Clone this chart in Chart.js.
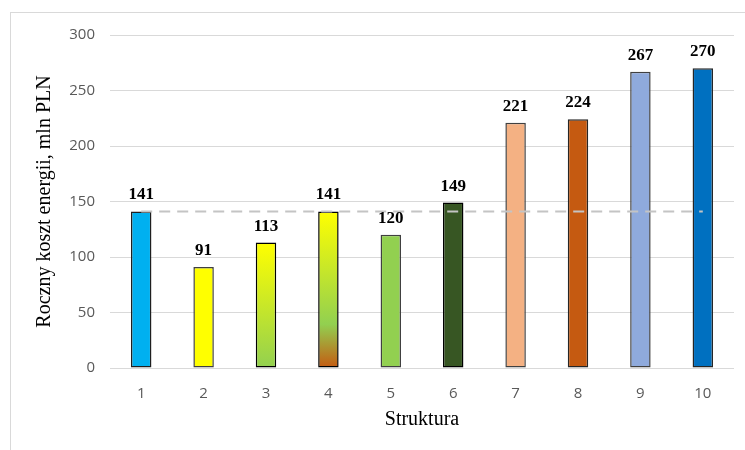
<!DOCTYPE html>
<html>
<head>
<meta charset="utf-8">
<script src="https://cdn.jsdelivr.net/npm/chart.js@4/dist/chart.umd.min.js"></script>
<style>
  html, body { margin: 0; padding: 0; background: #fff; }
  #wrap { position: relative; width: 745px; height: 450px; overflow: hidden; }
  #frame { position: absolute; left: 10px; top: 12px; width: 760px; height: 460px;
           border: 1px solid #d9d9d9; box-sizing: border-box; }
  canvas { position: absolute; left: 0; top: 0; }
</style>
</head>
<body>
<div id="wrap">
  <div id="frame"></div>
  <canvas id="c" width="745" height="450"></canvas>
</div>
<script>
// Annual energy cost per structure variant (mln PLN)
const structures = ['1', '2', '3', '4', '5', '6', '7', '8', '9', '10'];
const costs = [141, 91, 113, 141, 120, 149, 221, 224, 267, 270];
// Reference level: cost of structure 1
const referenceCost = 141;
const referenceLine = structures.map(() => referenceCost);
// Fill for each bar: one colour, or top-to-bottom gradient stops
const barFills = [
  ['#00B0F0'],
  ['#FFFF00'],
  ['#FFFF00', '#92D050'],
  ['#FFFF00', '#92D050', '#C55A11'],
  ['#92D050'],
  ['#375623'],
  ['#F4B183'],
  ['#C55A11'],
  ['#8FAADC'],
  ['#0070C0']
];
const gradientStopPos = { 2: [0, 1], 3: [0, 0.72, 1] };
const barBorders = ['#1f1f1f', '#404040', '#000000', '#000000', '#404040', '#000000', '#404040', '#262626', '#404040', '#262626'];

function barFill(ctx) {
  const i = ctx.dataIndex;
  const stops = barFills[i];
  const chart = ctx.chart;
  if (stops.length === 1 || !chart.chartArea) return stops[0];
  const y = chart.scales.y;
  const top = y.getPixelForValue(costs[i]);
  const bottom = y.getPixelForValue(0);
  const g = chart.ctx.createLinearGradient(0, top, 0, bottom);
  const pos = gradientStopPos[stops.length];
  stops.forEach((c, k) => g.addColorStop(pos[k], c));
  return g;
}

// Value labels above the bars
const valueLabels = {
  id: 'valueLabels',
  afterDatasetsDraw(chart) {
    const meta = chart.getDatasetMeta(0);
    const c = chart.ctx;
    c.save();
    c.font = 'bold 17px "Liberation Serif", "Times New Roman", serif';
    c.fillStyle = '#000';
    c.textAlign = 'center';
    c.textBaseline = 'alphabetic';
    meta.data.forEach((bar, i) => {
      c.fillText(String(costs[i]), bar.x, bar.y - 12);
    });
    c.restore();
  }
};

new Chart(document.getElementById('c'), {
  data: {
    labels: structures,
    datasets: [
      {
        type: 'bar',
        data: costs,
        backgroundColor: barFill,
        borderColor: barBorders,
        borderWidth: 1.5,
        borderSkipped: false,
        barPercentage: 0.41,
        categoryPercentage: 0.8,
        order: 2
      },
      {
        type: 'line',
        data: referenceLine,
        borderColor: '#C4C4C4',
        borderWidth: 2,
        borderDash: [11, 7],
        pointRadius: 0,
        fill: false,
        order: 1
      }
    ]
  },
  options: {
    responsive: false,
    animation: false,
    layout: { padding: { left: 29, right: 11, top: 35, bottom: 14 } },
    plugins: {
      legend: { display: false },
      tooltip: { enabled: false }
    },
    scales: {
      x: {
        grid: { display: false },
        border: { display: false },
        ticks: {
          color: '#595959',
          font: { family: '"Open Sans", sans-serif', size: 15 },
          padding: 9
        },
        title: {
          display: true,
          text: 'Struktura',
          color: '#000',
          font: { family: '"Liberation Serif", "Times New Roman", serif', size: 20 },
          padding: { top: 4, bottom: 4 }
        },
        afterFit(scale) { scale.height = 68; }
      },
      y: {
        min: 0,
        max: 300,
        grid: { color: '#d9d9d9', drawTicks: false, lineWidth: 1 },
        border: { display: false },
        ticks: {
          stepSize: 50,
          color: '#595959',
          font: { family: '"Open Sans", sans-serif', size: 15 },
          padding: 15
        },
        title: {
          display: true,
          text: 'Roczny koszt energii, mln PLN',
          color: '#000',
          font: { family: '"Liberation Serif", "Times New Roman", serif', size: 20 },
          padding: { top: 4, bottom: 4 }
        },
        afterFit(scale) { scale.width = 81; }
      }
    }
  },
  plugins: [valueLabels]
});
</script>
</body>
</html>
